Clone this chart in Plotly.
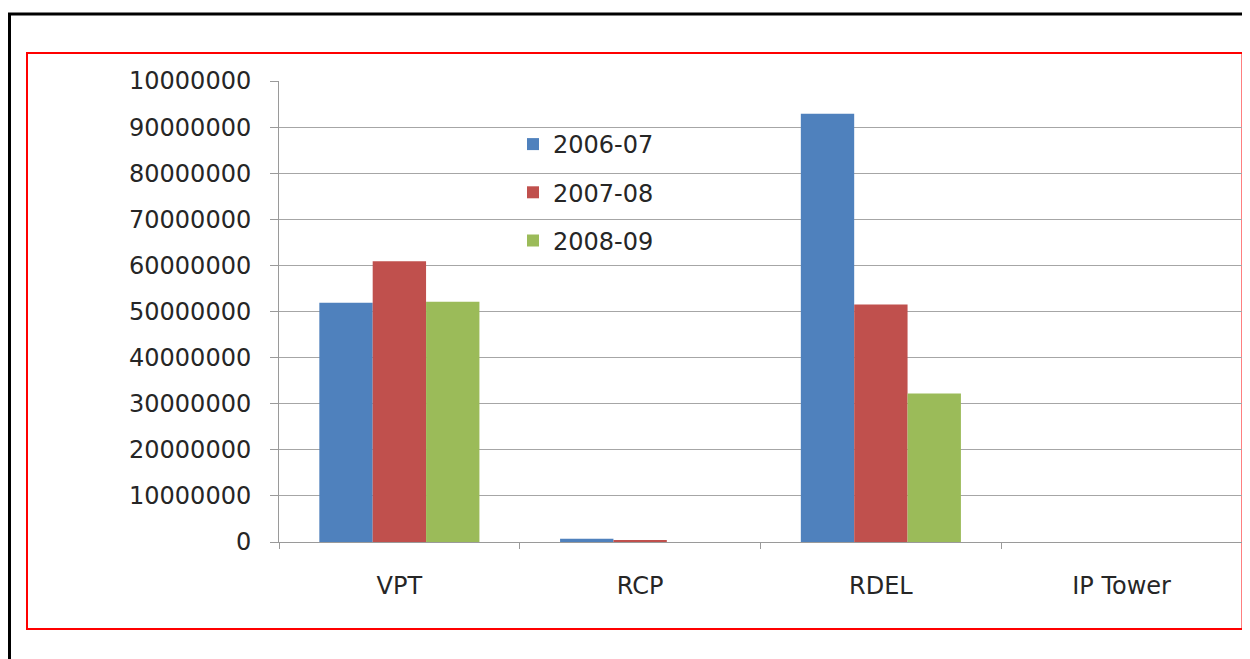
import plotly.graph_objects as go

categories = ["VPT", "RCP", "RDEL", "IP Tower"]
series_names = ["2006-07", "2007-08", "2008-09"]
values_2006_07 = [51900000, 700000, 92900000, 0]
values_2007_08 = [60900000, 250000, 51500000, 0]
values_2008_09 = [52100000, 0, 32200000, 0]
colors = ["#4f81bd", "#c0504d", "#9bbb59"]
ytick_vals = [0, 10000000, 20000000, 30000000, 40000000, 50000000,
              60000000, 70000000, 80000000, 90000000, 100000000]
ytick_text = ["0", "10000000", "20000000", "30000000", "40000000", "50000000",
              "60000000", "70000000", "80000000", "90000000", "10000000"]

# page has an 8px body margin; work in page coordinates and convert
OFF = 8
W, H = 1250 - OFF, 659 - OFF
PL, PR, PT, PB = 279, 1242, 81, 542   # plot area in page coords
L, R, T, B = PL - OFF, W - (PR - OFF), PT - OFF, H - (PB - OFF)
pw, ph = PR - PL, PB - PT

def px(x):
    return (x - PL) / pw

def py(y):
    return (PB - y) / ph

fig = go.Figure()
for name, vals, c in zip(series_names, [values_2006_07, values_2007_08, values_2008_09], colors):
    fig.add_trace(go.Bar(x=categories, y=vals, name=name, marker=dict(color=c, line=dict(width=0)),
                         legendgroup=name))

font = dict(family="DejaVu Sans", size=24, color="#262626")

fig.update_layout(
    width=W, height=H,
    margin=dict(l=L, r=R, t=T, b=B),
    paper_bgcolor="white", plot_bgcolor="white",
    barmode="group", bargap=0.335, bargroupgap=0,
    font=font,
    showlegend=True,
    legend=dict(x=px(513), y=py(122), xanchor="left", yanchor="top",
                font=dict(family="DejaVu Sans", size=24, color="#262626"),
                bgcolor="rgba(0,0,0,0)", tracegroupgap=14, itemwidth=30),
    xaxis=dict(type="category", showline=True, linecolor="#9a9a9a", linewidth=1,
               ticks="outside", ticklen=6, tickcolor="#9a9a9a", tickson="boundaries",
               showgrid=False, ticklabelstandoff=22, tickfont=font),
    yaxis=dict(range=[0, 100000000], tickvals=ytick_vals, ticktext=ytick_text,
               showline=True, linecolor="#9a9a9a", linewidth=1,
               ticks="outside", ticklen=8, tickcolor="#9a9a9a",
               showgrid=True, gridcolor="#a6a6a6", gridwidth=1,
               zeroline=False, ticklabelstandoff=14, tickfont=font),
    shapes=[
        dict(type="rect", xref="paper", yref="paper",
             x0=px(27), x1=px(1242.5), y0=py(629), y1=py(53),
             line=dict(color="#ff0000", width=2), fillcolor="rgba(0,0,0,0)", layer="below"),
        dict(type="line", xref="paper", yref="paper",
             x0=px(8), x1=px(1252), y0=py(14), y1=py(14),
             line=dict(color="black", width=3)),
        dict(type="line", xref="paper", yref="paper",
             x0=px(9.5), x1=px(9.5), y0=py(13), y1=py(662),
             line=dict(color="black", width=3)),
    ],
)

fig.write_html("out.html",
               post_script="document.documentElement.style.overflow='hidden';"
                           "document.body.style.overflow='hidden';")
